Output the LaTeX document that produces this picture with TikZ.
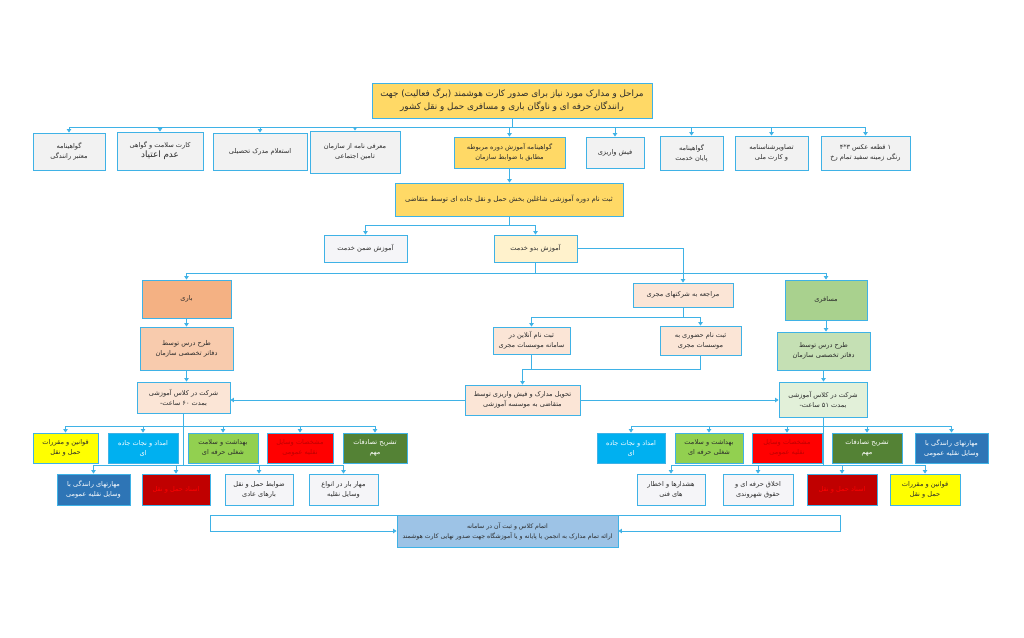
\documentclass[tikz,border=0pt]{standalone}
\usepackage{fontspec}
\usetikzlibrary{arrows.meta}
\TeXXeTstate=1
\newfontfamily\fafont[Script=Arabic]{DejaVu Sans}
\newcommand\fr[1]{\beginR #1\endR}
\definecolor{ln}{HTML}{3FB2E6}
\definecolor{txt}{HTML}{2B2B2B}
\definecolor{cGold}{HTML}{FFD966}
\definecolor{cGray}{HTML}{F2F2F2}
\definecolor{cWhite}{HTML}{F5F5F8}
\definecolor{cLYel}{HTML}{FFF2CC}
\definecolor{cSal}{HTML}{F4B183}
\definecolor{cPeach}{HTML}{F8CBAD}
\definecolor{cLPeach}{HTML}{FBE5D6}
\definecolor{cGrn}{HTML}{A9D18E}
\definecolor{cLGrn}{HTML}{C5E0B4}
\definecolor{cLLGrn}{HTML}{E2F0D9}
\definecolor{cYel}{HTML}{FFFF00}
\definecolor{cBlue}{HTML}{00B0F0}
\definecolor{cLime}{HTML}{92D050}
\definecolor{cRed}{HTML}{FF0000}
\definecolor{cDRed}{HTML}{C00000}
\definecolor{cDGrn}{HTML}{548235}
\definecolor{cDBlue}{HTML}{2E75B6}
\definecolor{cFin}{HTML}{9DC3E6}
\newcommand\bx[8][]{\node[box,fill=#7,minimum width={(#5-#3)*1pt},minimum height={(#6-#4)*1pt},#1] (#2) at ({(#3+#5)/2},{(#4+#6)/2}) {#8};}
\begin{document}
\begin{tikzpicture}[x=1pt,y=-1pt,
  box/.style={draw=ln,line width=0.9pt,align=center,inner sep=1pt,text=txt,font=\fafont\fontsize{6.6}{10}\selectfont},
  cn/.style={draw=ln,line width=0.9pt},
  arr/.style={cn,-{Triangle[width=4.5pt,length=3.5pt]}}]
\useasboundingbox[fill=white] (0,0) rectangle (1024,637);
% line behind final box
\coordinate (cl) at (210,515);
\coordinate (cr) at (840,515);
\draw[cn] (cl) -- (cr);
% title
\bx[font=\fafont\fontsize{8.8}{13}\selectfont]{title}{372}{83}{652}{118}{cGold}{\fr{مراحل و مدارک مورد نیاز برای  صدور کارت هوشمند (برگ فعالیت) جهت}\\\fr{رانندگان حرفه ای و ناوگان باری و مسافری حمل و نقل کشور}}
% row 1
\bx{a1}{33}{133}{105}{170}{cGray}{\fr{گواهینامه}\\\fr{معتبر رانندگی}}
\bx{a2}{117}{132}{203}{170}{cGray}{\fr{کارت سلامت و گواهی}\\{\fontsize{8.8}{12}\selectfont\fr{عدم اعتیاد}}}
\bx{a3}{213}{133}{307}{170}{cGray}{\fr{استعلام مدرک تحصیلی}}
\bx{a4}{310}{131}{400}{173}{cGray}{\fr{معرفی نامه از سازمان}\\\fr{تامین اجتماعی}}
\bx{a5}{454}{137}{565}{168}{cGold}{\fr{گواهینامه آموزش دوره مربوطه}\\\fr{مطابق با ضوابط سازمان}}
\bx{a6}{586}{137}{644}{168}{cGray}{\fr{فیش واریزی}}
\bx{a7}{660}{136}{723}{170}{cGray}{\fr{گواهینامه}\\\fr{پایان خدمت}}
\bx{a8}{735}{136}{808}{170}{cGray}{\fr{تصاویرشناسنامه}\\\fr{و کارت ملی}}
\bx{a9}{821}{136}{910}{170}{cGray}{\fr{۱ قطعه عکس \beginL ۳*۴\endL}\\\fr{رنگی زمینه سفید تمام رخ}}
% registration
\bx[font=\fafont\fontsize{6.9}{10}\selectfont]{reg}{395}{183}{623}{216}{cGold}{\fr{ثبت نام دوره آموزشی شاغلین بخش حمل و نقل جاده ای توسط متقاضی}}
\bx{zemn}{324}{235}{407}{262}{cWhite}{\fr{آموزش ضمن خدمت}}
\bx{badv}{494}{235}{577}{262}{cLYel}{\fr{آموزش بدو خدمت}}
% left branch
\bx{bari}{142}{280}{231}{318}{cSal}{\fr{باری}}
\bx{tarhL}{140}{327}{233}{370}{cPeach}{\fr{طرح درس توسط}\\\fr{دفاتر تخصصی سازمان}}
\bx{sherL}{137}{382}{230}{413}{cLPeach}{\fr{شرکت در کلاس آموزشی}\\\fr{بمدت  ۶۰ ساعت-}}
% middle
\bx{moraj}{633}{283}{733}{307}{cLPeach}{\fr{مراجعه به شرکتهای مجری}}
\bx{online}{493}{327}{570}{354}{cLPeach}{\fr{ثبت نام آنلاین در}\\\fr{سامانه موسسات مجری}}
\bx{hozuri}{660}{326}{741}{355}{cLPeach}{\fr{ثبت نام حضوری به}\\\fr{موسسات مجری}}
\bx{tahvil}{465}{385}{580}{415}{cLPeach}{\fr{تحویل مدارک و فیش واریزی توسط}\\\fr{متقاضی به موسسه آموزشی}}
% right branch
\bx{mosafer}{785}{280}{867}{320}{cGrn}{\fr{مسافری}}
\bx{tarhR}{777}{332}{870}{370}{cLGrn}{\fr{طرح درس توسط}\\\fr{دفاتر تخصصی سازمان}}
\bx{sherR}{779}{382}{867}{417}{cLLGrn}{\fr{شرکت در کلاس آموزشی}\\\fr{بمدت ۵۱ ساعت-}}
% bottom left rows
\bx{LA1}{33}{433}{98}{463}{cYel}{\fr{قوانین و مقررات}\\\fr{حمل و نقل}}
\bx[text=white]{LA2}{108}{433}{178}{463}{cBlue}{\fr{امداد و نجات جاده}\\\fr{ای}}
\bx{LA3}{188}{433}{258}{463}{cLime}{\fr{بهداشت و سلامت}\\\fr{شغلی حرفه ای}}
\bx[text=cDRed]{LA4}{267}{433}{333}{463}{cRed}{\fr{مشخصات وسایل}\\\fr{نقلیه عمومی}}
\bx[text=white]{LA5}{343}{433}{407}{463}{cDGrn}{\fr{تشریح تصادفات}\\\fr{مهم}}
\bx[text=white]{LB1}{57}{474}{130}{505}{cDBlue}{\fr{مهارتهای رانندگی با}\\\fr{وسایل نقلیه عمومی}}
\bx[text=cRed]{LB2}{142}{474}{210}{505}{cDRed}{\fr{اسناد حمل و نقل}}
\bx{LB3}{225}{474}{293}{505}{cWhite}{\fr{ضوابط حمل و نقل}\\\fr{بارهای عادی}}
\bx{LB4}{309}{474}{378}{505}{cWhite}{\fr{مهار بار در انواع}\\\fr{وسایل نقلیه}}
% bottom right rows
\bx[text=white]{RA1}{597}{433}{665}{463}{cBlue}{\fr{امداد و نجات جاده}\\\fr{ای}}
\bx{RA2}{675}{433}{743}{463}{cLime}{\fr{بهداشت و سلامت}\\\fr{شغلی حرفه ای}}
\bx[text=cDRed]{RA3}{752}{433}{822}{463}{cRed}{\fr{مشخصات وسایل}\\\fr{نقلیه عمومی}}
\bx[text=white]{RA4}{832}{433}{902}{463}{cDGrn}{\fr{تشریح تصادفات}\\\fr{مهم}}
\bx[text=white]{RA5}{915}{433}{988}{463}{cDBlue}{\fr{مهارتهای رانندگی با}\\\fr{وسایل نقلیه عمومی}}
\bx{RB1}{637}{474}{705}{505}{cWhite}{\fr{هشدارها و اخطار}\\\fr{های فنی}}
\bx{RB2}{723}{474}{793}{505}{cWhite}{\fr{اخلاق حرفه ای و}\\\fr{حقوق شهروندی}}
\bx[text=cRed]{RB3}{807}{474}{877}{505}{cDRed}{\fr{اسناد حمل و نقل}}
\bx{RB4}{890}{474}{960}{505}{cYel}{\fr{قوانین و مقررات}\\\fr{حمل و نقل}}
% final
\bx[font=\fafont\fontsize{6.2}{10}\selectfont]{fin}{397}{515}{618}{547}{cFin}{\fr{اتمام کلاس و ثبت آن در سامانه}\\\fr{ارائه تمام مدارک به انجمن یا پایانه و یا آموزشگاه جهت صدور نهایی کارت هوشمند}}
% ---- connectors ----
\coordinate (bus) at (510,127);
\draw[cn] (title.south) -- (title.south |- bus);
\draw[cn] (bus -| a1.north) -- (bus -| a9.north);
\foreach \n in {a1,a2,a3,a4,a5,a6,a7,a8,a9}{\draw[arr] (bus -| \n.north) -- (\n.north);}
\draw[arr] (a5.south) -- (a5.south |- reg.north);
\coordinate (s1) at (0,225);
\draw[cn] (reg.south) -- (reg.south |- s1);
\draw[cn] (s1 -| zemn.north) -- (s1 -| badv.north);
\draw[arr] (s1 -| zemn.north) -- (zemn.north);
\draw[arr] (s1 -| badv.north) -- (badv.north);
\draw[arr] (badv.east) -| (moraj.north);
\coordinate (s2) at (0,273);
\draw[cn] (badv.south) -- (badv.south |- s2);
\draw[cn] (s2 -| bari.north) -- (s2 -| mosafer.north);
\draw[arr] (s2 -| bari.north) -- (bari.north);
\draw[arr] (s2 -| mosafer.north) -- (mosafer.north);
\draw[arr] (bari.south) -- (bari.south |- tarhL.north);
\draw[arr] (tarhL.south) -- (tarhL.south |- sherL.north);
\draw[arr] (mosafer.south) -- (mosafer.south |- tarhR.north);
\draw[arr] (tarhR.south) -- (tarhR.south |- sherR.north);
\coordinate (s3) at (0,317);
\draw[cn] (moraj.south) -- (moraj.south |- s3);
\draw[cn] (s3 -| online.north) -- (s3 -| hozuri.north);
\draw[arr] (s3 -| online.north) -- (online.north);
\draw[arr] (s3 -| hozuri.north) -- (hozuri.north);
\coordinate (s4) at (0,369);
\draw[cn] (online.south) -- (online.south |- s4);
\draw[cn] (hozuri.south) |- (tahvil.north |- s4);
\draw[arr] (tahvil.north |- s4) -- (tahvil.north);
\draw[arr] (tahvil.west) -- (tahvil.west -| sherL.east);
\draw[arr] (tahvil.east) -- (tahvil.east -| sherR.west);
\coordinate (s5) at (0,426);
\coordinate (s6) at (0,465);
\draw[cn] (sherL.south) -- (sherL.south |- s6);
\draw[cn] (s5 -| LA1.north) -- (s5 -| LA5.north);
\foreach \n in {LA1,LA2,LA3,LA4,LA5}{\draw[arr] (s5 -| \n.north) -- (\n.north);}
\draw[cn] (s6 -| LB1.north) -- (s6 -| LB4.north);
\foreach \n in {LB1,LB2,LB3,LB4}{\draw[arr] (s6 -| \n.north) -- (\n.north);}
\draw[cn] (sherR.south) -- (sherR.south |- s6);
\draw[cn] (s5 -| RA1.north) -- (s5 -| RA5.north);
\foreach \n in {RA1,RA2,RA3,RA4,RA5}{\draw[arr] (s5 -| \n.north) -- (\n.north);}
\draw[cn] (s6 -| RB1.north) -- (s6 -| RB4.north);
\foreach \n in {RB1,RB2,RB3,RB4}{\draw[arr] (s6 -| \n.north) -- (\n.north);}
\draw[arr] (cl) |- (fin.west);
\draw[arr] (cr) |- (fin.east);
\end{tikzpicture}
\end{document}
